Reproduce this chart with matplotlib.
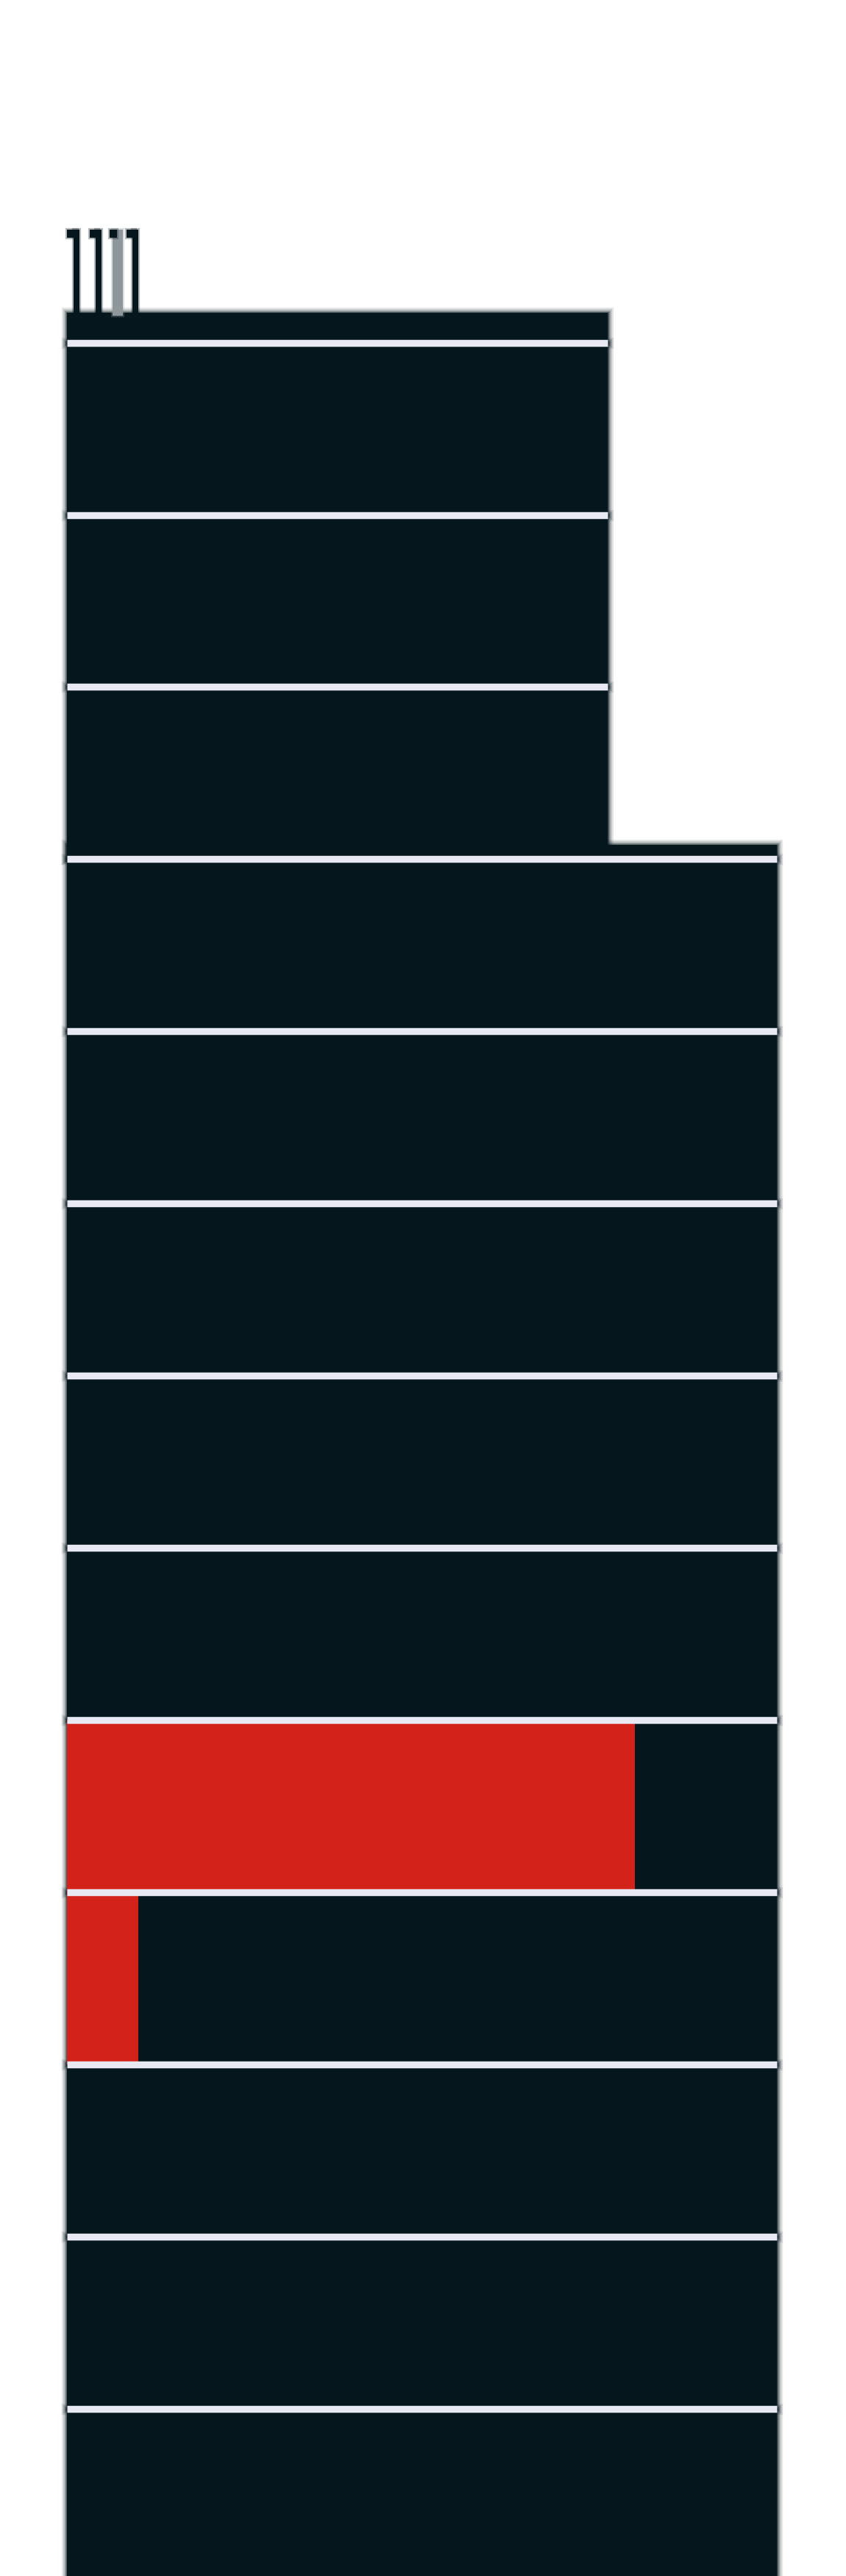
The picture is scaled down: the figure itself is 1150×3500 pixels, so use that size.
import numpy as np
import matplotlib
matplotlib.use('Agg')
import matplotlib.pyplot as plt
import matplotlib.patheffects as pe

# floors counted from the ground, width as % of the base footprint
floors = np.arange(1, 14)
floor_widths = [100, 100, 100, 100, 100, 100, 100, 100, 100, 100, 76.2, 76.2, 76.2]
# share of each floor filled in red
red_values = [0, 0, 0, 10, 80, 0, 0, 0, 0, 0, 0, 0, 0]

# roof slabs on top of each section: (top floor, width, slab height)
roof_floors = [10, 13]
roof_widths = [100, 76.2]
roof_heights = [0.085, 0.175]

# antennas on the roof
antenna_x = [1.35, 4.46, 7.15, 9.64]
antenna_h = [0.50, 0.50, 0.50, 0.50]
antenna_w = [0.85, 0.85, 1.45, 0.85]
antenna_colors = ['#05161d', '#05161d', '#8e989c', '#05161d']

dark = '#05161d'
red = '#d3221a'
line_color = '#e8e9f2'

fig = plt.figure(figsize=(11.5, 35), dpi=100)
ax = fig.add_axes([0, 0, 1, 1])
ax.set_xlim(-9.43, 109.74)
ax.set_ylim(0.03, 14.99)
ax.axis('off')

glow = [pe.Stroke(linewidth=11, foreground=dark, alpha=0.10),
        pe.Stroke(linewidth=8, foreground=dark, alpha=0.15),
        pe.Stroke(linewidth=5, foreground=dark, alpha=0.25),
        pe.Stroke(linewidth=2.5, foreground=dark, alpha=0.45),
        pe.Normal()]

# building body
bars = ax.barh(floors - 1, floor_widths, height=1, left=0, align='edge',
               color=dark, linewidth=0)
for b in bars:
    b.set_path_effects(glow)

roof_top = {}
for f, w, h in zip(roof_floors, roof_widths, roof_heights):
    r = ax.barh(f, w, height=h, left=0, align='edge', color=dark, linewidth=0)
    r[0].set_path_effects(glow)
    roof_top[w] = f + h

# antennas
top = roof_top[76.2]
ant = ax.bar(antenna_x, antenna_h, width=antenna_w, bottom=top - 0.02,
             color=antenna_colors, linewidth=0)
for a in ant:
    a.set_path_effects([pe.Stroke(linewidth=3, foreground=a.get_facecolor(), alpha=0.3),
                        pe.Normal()])
# small flags at the antenna tips
flag_x = [x - 0.6 for x in antenna_x]
flags = ax.bar(flag_x, [0.045] * 4, width=[1.4, 1.2, 1.0, 1.2],
               bottom=[top - 0.02 + h - 0.045 for h in antenna_h],
               color=dark, linewidth=0)
for fl in flags:
    fl.set_path_effects([pe.Stroke(linewidth=3, foreground=dark, alpha=0.3), pe.Normal()])

# occupancy in red
ax.barh(floors - 1, red_values, height=1, left=0, align='edge', color=red, linewidth=0)

# floor separators
ax.hlines(floors, 0, floor_widths, colors=line_color, linewidth=6.8,
          capstyle='butt')

fig.savefig('out.png', dpi=100, facecolor='white')
